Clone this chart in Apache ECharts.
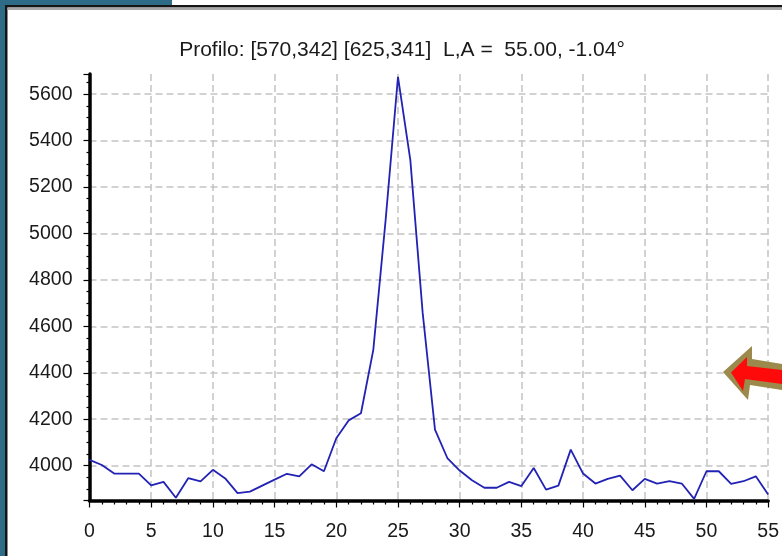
<!DOCTYPE html>
<html>
<head>
<meta charset="utf-8">
<script src="https://cdn.jsdelivr.net/npm/echarts@6/dist/echarts.min.js"></script>
<style>
  html, body { margin: 0; padding: 0; background: #ffffff; }
  #chart { width: 782px; height: 556px; }
</style>
</head>
<body>
<div id="chart"></div>
<script>
// Sample positions along the profile (pixels)
const positions = [
  0, 1, 2, 3, 4, 5, 6, 7, 8, 9,
  10, 11, 12, 13, 14, 15, 16, 17, 18, 19,
  20, 21, 22, 23, 24, 25, 26, 27, 28, 29,
  30, 31, 32, 33, 34, 35, 36, 37, 38, 39,
  40, 41, 42, 43, 44, 45, 46, 47, 48, 49,
  50, 51, 52, 53, 54, 55
];

// Intensity read along the profile
const intensity = [
  4025, 4003, 3966, 3966, 3966, 3915, 3930, 3862, 3946, 3932,
  3982, 3945, 3882, 3888, 3914, 3940, 3965, 3954, 4006, 3976,
  4118, 4195, 4226, 4499, 5059, 5675, 5317, 4659, 4155, 4033,
  3979, 3937, 3905, 3905, 3930, 3912, 3990, 3897, 3914, 4069,
  3966, 3923, 3943, 3957, 3894, 3943, 3923, 3933, 3923, 3857,
  3976, 3976, 3922, 3933, 3954, 3876
];

// Labelled ticks on the value axis
const yTickLabels = [4000, 4200, 4400, 4600, 4800, 5000, 5200, 5400, 5600];
const titleText = 'Profilo: [570,342] [625,341]  L,A =  55.00, -1.04\u00b0';

const FONT = '"Liberation Sans", Arial, sans-serif';
const chart = echarts.init(document.getElementById('chart'), null, { renderer: 'canvas' });

const seriesData = positions.map((p, i) => [p, intensity[i]]);

chart.setOption({
  animation: false,
  backgroundColor: '#ffffff',
  title: {
    text: titleText,
    left: 397,
    top: 35,
    textAlign: 'center',
    textStyle: { fontFamily: FONT, fontSize: 21, fontWeight: 'normal', color: '#1a1a1a' }
  },
  grid: { left: 89.5, right: 9, top: 74, bottom: 55.5, containLabel: false },
  xAxis: {
    type: 'value',
    min: 0,
    max: 55,
    interval: 5,
    axisLine: { show: true, lineStyle: { color: '#000000', width: 3.5 } },
    axisTick: { show: true, length: 7, lineStyle: { color: '#000000', width: 1.2 } },
    minorTick: { show: true, splitNumber: 5, length: 4, lineStyle: { color: '#000000', width: 1.2 } },
    axisLabel: { margin: 21, fontFamily: FONT, fontSize: 19.5, color: '#1a1a1a' },
    splitLine: { show: true, lineStyle: { color: '#c4c4c4', width: 1.5, type: [7, 4] } }
  },
  yAxis: {
    type: 'value',
    min: 3850,
    max: 5687,
    splitNumber: 9,
    minInterval: 200,
    maxInterval: 200,
    axisLine: { show: true, onZero: false, lineStyle: { color: '#000000', width: 3.5 } },
    axisTick: { show: true, length: 6, lineStyle: { color: '#000000', width: 1.2 } },
    minorTick: { show: true, splitNumber: 4, length: 3, lineStyle: { color: '#000000', width: 1.2 } },
    axisLabel: {
      margin: 17,
      fontFamily: FONT,
      fontSize: 19.5,
      color: '#1a1a1a',
      showMinLabel: false,
      showMaxLabel: false,
      formatter: v => (yTickLabels.indexOf(v) >= 0 ? String(v) : '')
    },
    splitLine: {
      show: true,
      showMinLine: false,
      showMaxLine: false,
      lineStyle: { color: '#c4c4c4', width: 1.5, type: [7, 4] }
    }
  },
  series: [{
    type: 'line',
    data: seriesData,
    symbol: 'none',
    clip: false,
    lineStyle: { color: '#2222b4', width: 1.8 },
    z: 3
  }],
  graphic: [
    // window frame
    { type: 'rect', shape: { x: 0, y: 0, width: 5, height: 556 }, style: { fill: '#2e6b86' }, z: 100 },
    { type: 'rect', shape: { x: 0, y: 0, width: 172, height: 5 }, style: { fill: '#2e6b86' }, z: 100 },
    { type: 'rect', shape: { x: 5, y: 5, width: 777, height: 2.5 }, style: { fill: '#151515' }, z: 101 },
    { type: 'rect', shape: { x: 5, y: 5, width: 2.5, height: 551 }, style: { fill: '#151515' }, z: 101 },
    { type: 'rect', shape: { x: 7.5, y: 7.5, width: 774.5, height: 2.5 }, style: { fill: '#a8a8a8' }, z: 101 },
    // pointer arrow
    {
      type: 'polygon', z: 110,
      shape: { points: [[723, 372], [752, 346], [752, 359], [782, 364], [782, 390], [750, 385], [748, 400]] },
      style: { fill: '#9c8a4c' }
    },
    {
      type: 'polygon', z: 111,
      shape: { points: [[731, 372.5], [747, 357], [747, 366], [782, 370], [782, 384], [745, 379], [743, 391]] },
      style: { fill: '#ff0a0a' }
    }
  ]
});
</script>
</body>
</html>
